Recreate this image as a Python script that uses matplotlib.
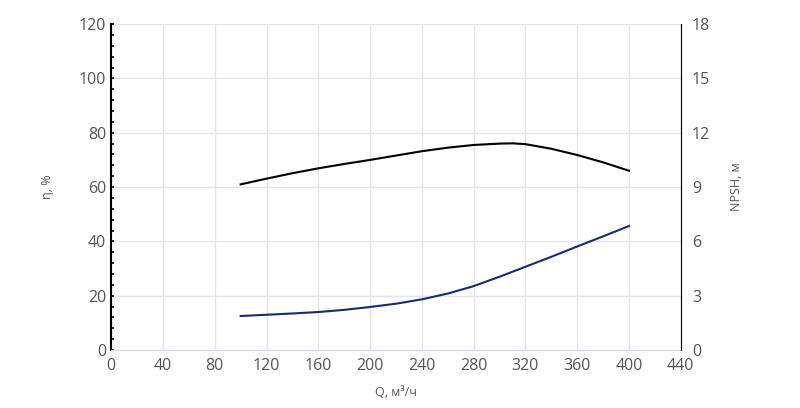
import matplotlib
matplotlib.use("Agg")
import matplotlib.pyplot as plt
from matplotlib.ticker import MultipleLocator

plt.rcParams['font.family'] = ['Open Sans', 'DejaVu Sans']

q_eff = [100, 120, 140, 160, 180, 200, 220, 240, 260, 280, 300, 310, 320, 340, 360, 380, 400]
eff = [61, 63.1, 65.1, 66.9, 68.5, 70, 71.6, 73.2, 74.5, 75.5, 76, 76.1, 75.8, 74.1, 71.8, 69.1, 66]
q_npsh = [100, 120, 140, 160, 180, 200, 220, 240, 260, 280, 300, 320, 340, 360, 380, 400]
npsh = [1.88, 1.95, 2.02, 2.1, 2.22, 2.38, 2.56, 2.8, 3.12, 3.53, 4.05, 4.6, 5.15, 5.72, 6.28, 6.85]

fig = plt.figure(figsize=(8, 4.08), dpi=100)
ax = fig.add_axes([0.139, 0.142, 0.712, 0.799])
ax2 = ax.twinx()

ax.plot(q_eff, eff, color='black', lw=1.5)
ax2.plot(q_npsh, npsh, color='#1a2a6c', lw=1.5)

ax.set_xlim(0, 440)
ax.set_ylim(0, 120)
ax2.set_ylim(0, 18)
ax.xaxis.set_major_locator(MultipleLocator(40))
ax.yaxis.set_major_locator(MultipleLocator(20))
ax.yaxis.set_minor_locator(MultipleLocator(4))
ax2.yaxis.set_major_locator(MultipleLocator(3))
ax.grid(True, color='#e3e3ea', lw=1)
ax.set_axisbelow(True)

tc = '#555555'
for a in (ax, ax2):
    for s in a.spines.values():
        s.set_visible(False)
ax.spines['left'].set_visible(True)
ax.spines['left'].set_color('black')
ax.spines['left'].set_linewidth(1.5)
ax.spines['bottom'].set_visible(True)
ax.spines['bottom'].set_color('#ccd6eb')
ax2.spines['right'].set_visible(True)
ax2.spines['right'].set_color('black')

ax.tick_params(axis='y', which='both', direction='in', length=2, width=1.2, colors='black', labelcolor=tc, labelsize=11.5)
ax.tick_params(axis='x', length=0, labelcolor=tc, labelsize=11.5, pad=6)
ax2.tick_params(axis='y', length=0, labelcolor=tc, labelsize=11.5, pad=8)

ax.set_xlabel('Q, м³/ч', color=tc, fontsize=9, labelpad=8)
ax.set_ylabel('η, %', color=tc, fontsize=9, labelpad=18)
ax2.set_ylabel('NPSH, м', color=tc, fontsize=9, labelpad=14)

fig.savefig('out.png', dpi=100)
